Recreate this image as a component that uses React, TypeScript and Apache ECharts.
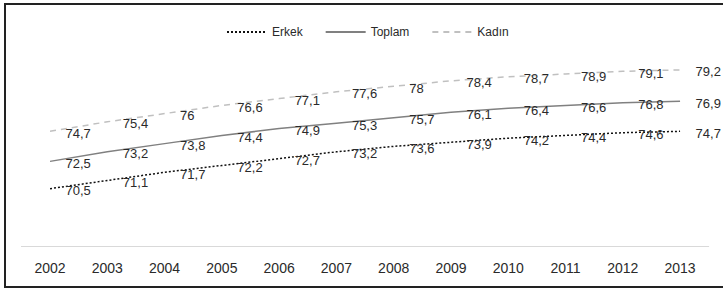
import React, { useEffect, useRef } from "react";
import * as echarts from "echarts";

const years = ["2002", "2003", "2004", "2005", "2006", "2007", "2008", "2009", "2010", "2011", "2012", "2013"];
const erkek = [70.5, 71.1, 71.7, 72.2, 72.7, 73.2, 73.6, 73.9, 74.2, 74.4, 74.6, 74.7];
const toplam = [72.5, 73.2, 73.8, 74.4, 74.9, 75.3, 75.7, 76.1, 76.4, 76.6, 76.8, 76.9];
const kadin = [74.7, 75.4, 76, 76.6, 77.1, 77.6, 78, 78.4, 78.7, 78.9, 79.1, 79.2];

const FONT = "'Liberation Sans', Arial, Helvetica, sans-serif";

const fmt = (p: any) => String(p.value).replace(".", ",");

const label = {
  show: true,
  position: "right",
  distance: 15,
  offset: [0, 2],
  color: "#2a2a2a",
  fontSize: 13,
  fontFamily: FONT,
  formatter: fmt,
};

export default function App() {
  const ref = useRef<HTMLDivElement>(null);
  useEffect(() => {
    if (!ref.current) return;
    const chart = echarts.init(ref.current, null, { renderer: "svg" });
    chart.setOption({
      animation: false,
      backgroundColor: "#fff",
      textStyle: { fontFamily: FONT },
      legend: {
        left: 221,
        top: 21,
        itemWidth: 40,
        itemHeight: 14,
        itemGap: 22,
        itemStyle: { opacity: 0 },
        textStyle: { color: "#2a2a2a", fontSize: 12, fontFamily: FONT },
        data: ["Erkek", "Toplam", "Kadın"],
      },
      grid: { left: 21.4, right: 14.3, top: 59, bottom: 43, containLabel: false },
      xAxis: {
        type: "category",
        data: years,
        boundaryGap: true,
        axisLine: { show: true, lineStyle: { color: "#d9d9d9", width: 1 } },
        axisTick: { show: false },
        axisLabel: { color: "#2a2a2a", fontSize: 14, fontFamily: FONT, margin: 15 },
      },
      yAxis: {
        type: "value",
        min: 66.3,
        max: 80,
        show: false,
        splitLine: { show: false },
      },
      series: [
        {
          name: "Erkek",
          type: "line",
          data: erkek,
          symbol: "circle",
          symbolSize: 1,
          showSymbol: true,
          lineStyle: { color: "#111", width: 1.5, type: [2, 2] },
          itemStyle: { color: "rgba(0,0,0,0)" },
          label,
        },
        {
          name: "Toplam",
          type: "line",
          data: toplam,
          symbol: "circle",
          symbolSize: 1,
          showSymbol: true,
          lineStyle: { color: "#808080", width: 1.5, type: "solid" },
          itemStyle: { color: "rgba(0,0,0,0)" },
          label,
        },
        {
          name: "Kadın",
          type: "line",
          data: kadin,
          symbol: "circle",
          symbolSize: 1,
          showSymbol: true,
          lineStyle: { color: "#c0c0c0", width: 1.5, type: [6, 5] },
          itemStyle: { color: "rgba(0,0,0,0)" },
          label,
        },
      ],
      graphic: [
        {
          type: "rect",
          shape: { x: 5, y: 4, width: 730, height: 283 },
          style: { fill: "none", stroke: "#222", lineWidth: 2 },
          silent: true,
          z: 100,
        },
      ],
    });
    return () => chart.dispose();
  }, []);
  return (
    <div
      ref={ref}
      style={{ position: "fixed", left: 0, top: 0, width: 723, height: 289 }}
    />
  );
}
